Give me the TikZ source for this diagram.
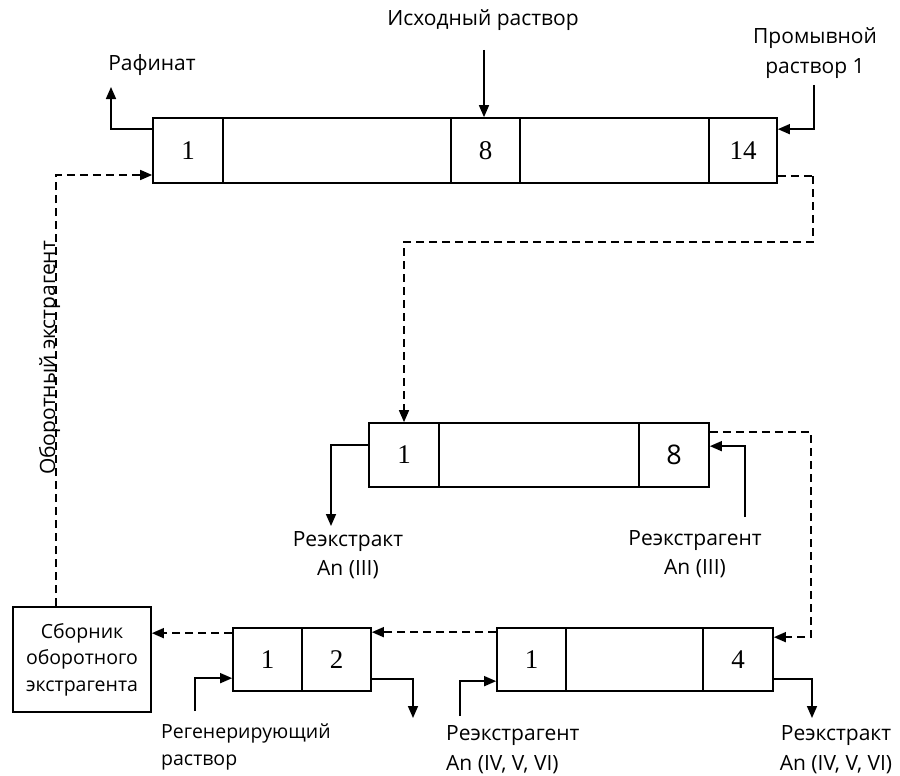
\documentclass[tikz,border=0pt]{standalone}
\usepackage{fontspec}
\setmainfont{Open Sans}
\newfontfamily\numfont{Liberation Serif}
\usetikzlibrary{arrows.meta,calc}
\begin{document}
\begin{tikzpicture}[x=1pt,y=-1pt,
  cell/.style={draw, line width=1.7pt, inner sep=0pt, minimum height=65pt, font=\numfont\fontsize{27}{27}\selectfont},
  cellB/.style={cell, minimum height=63pt},
  lbl/.style={inner sep=0pt, font=\fontsize{21}{29}\selectfont, align=center},
  arr/.style={line width=1.6pt, -{Triangle[length=12pt,width=10pt]}},
  darr/.style={arr, dash pattern=on 8pt off 5pt},
]
\useasboundingbox (0,0) rectangle (900,776);

% top box
\node[cell, minimum width=70pt]  (t1)  at (188,150.5) {1};
\node[cell, minimum width=228pt] (tm)  at (337,150.5) {};
\node[cell, minimum width=69pt]  (t8)  at (485.5,150.5) {8};
\node[cell, minimum width=189pt] (tm2) at (614.5,150.5) {};
\node[cell, minimum width=68pt]  (t14) at (743,150.5) {14};

% middle box
\node[cell, minimum height=64pt, minimum width=70pt]  (m1) at (404,455) {1};
\node[cell, minimum height=64pt, minimum width=200pt] (mm) at (539,455) {};
\node[cell, minimum height=64pt, minimum width=70pt, font=\fontsize{27}{27}\selectfont] (m8) at (674,455) {8};

% small box
\node[cellB, minimum width=69pt] (s1) at (267.5,659.5) {1};
\node[cellB, minimum width=69pt] (s2) at (336.5,659.5) {2};

% bottom right box
\node[cellB, minimum width=69pt]  (b1) at (531.5,659.5) {1};
\node[cellB, minimum width=137pt] (bm) at (634.5,659.5) {};
\node[cellB, minimum width=70pt]  (b4) at (738,659.5) {4};

% collector
\node[draw, line width=1.7pt, minimum width=138pt, minimum height=105pt, inner sep=0pt,
      font=\fontsize{19.5}{26.5}\selectfont, align=center] (col) at (82,659.5)
      {Сборник\\оборотного\\экстрагента};

% labels
\node[lbl] (raf) at (152,65) {Рафинат};
\node[lbl] (src) at (483,20) {Исходный раствор};
\node[lbl, font=\fontsize{21}{30}\selectfont] (wash) at (815,53) {Промывной\\раствор 1};
\node[lbl] (re3) at (348,555) {Реэкстракт\\An (III)};
\node[lbl] (ra3) at (695,554) {Реэкстрагент\\An (III)};
\node[lbl, align=left, anchor=west, font=\fontsize{19.5}{27}\selectfont] (reg) at (161,747) {Регенерирующий\\раствор};
\node[lbl, align=left, anchor=west, font=\fontsize{21}{30}\selectfont] (ra4) at (446,750) {Реэкстрагент\\An (IV, V, VI)};
\node[lbl, font=\fontsize{21}{30}\selectfont] (re4) at (836,750) {Реэкстракт\\An (IV, V, VI)};
\node[inner sep=0pt, rotate=90, anchor=base, font=\fontsize{21}{22}\selectfont] (rec) at (55,358) {Оборотный экстрагент};

% free ends
\coordinate (rafEnd) at (111,87);
\coordinate (srcTop) at (484,50);
\coordinate (washTop) at (814,85);
\coordinate (d1a) at (813,174);
\coordinate (d1b) at (404,242);
\coordinate (recL) at (56,175);
\coordinate (re3End) at (331,526);
\coordinate (ra3Bot) at (745,517);
\coordinate (d2a) at (811,433);
\coordinate (re4End) at (812,718);
\coordinate (ra4Bot) at (460,716);
\coordinate (s2End) at (413,718);
\coordinate (regBot) at (195,711);

% solid connectors
\draw[arr] ([yshift=-12pt]t1.north west) -| (rafEnd);
\draw[arr] (srcTop) -- (srcTop |- t8.north);
\draw[arr] (washTop) |- ([yshift=-12pt]t14.north east);
\draw[arr] ([yshift=-23pt]m1.north west) -| (re3End);
\draw[arr] (ra3Bot) |- ([yshift=-24pt]m8.north east);
\draw[arr] ([yshift=-52pt]b4.north east) -| (re4End);
\draw[arr] (ra4Bot) |- ([yshift=-54pt]b1.north west);
\draw[arr] ([yshift=-52pt]s2.north east) -| (s2End);
\draw[arr] (regBot) |- ([yshift=-51pt]s1.north west);

% dashed connectors
\draw[darr] ([yshift=8pt]t14.south east) -| (d1a) |- (d1b) -- (d1b |- m1.north);
\draw[darr] (col.north -| recL) -- (recL) -- (recL -| t1.west);
\draw[darr] ([yshift=-10pt]m8.north east) -| (d2a |- b4.north) |- ([yshift=-10pt]b4.north east);
\draw[darr] ([yshift=-5pt]b1.north west) -- ([yshift=-5pt]s2.north east);
\draw[darr] ([yshift=-6pt]s1.north west) -- ([yshift=-6pt]s1.north west -| col.east);
\end{tikzpicture}
\end{document}
